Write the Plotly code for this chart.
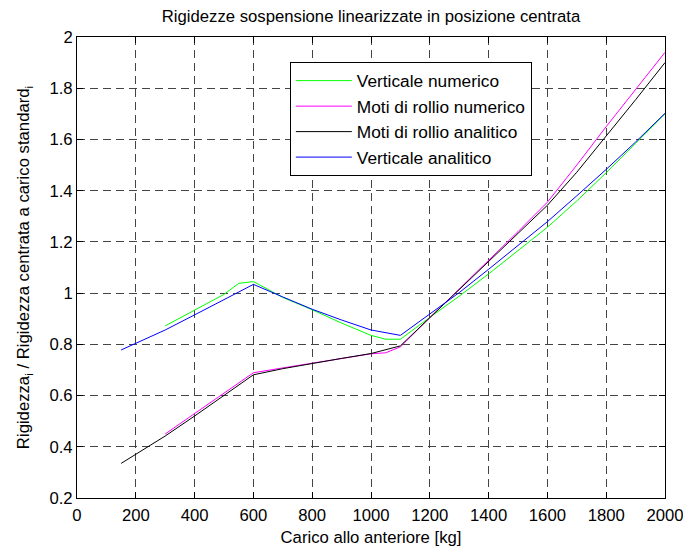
import plotly.graph_objects as go

# Carico allo anteriore [kg] and normalised stiffness values
x_vert_num = [300, 400, 500, 550, 600, 700, 800, 900, 1000, 1050, 1100, 1200, 1300, 1400, 1500, 1600, 1700, 1800, 1900, 2000]
y_vert_num = [0.872, 0.934, 0.995, 1.038, 1.045, 0.983, 0.935, 0.883, 0.835, 0.820, 0.820, 0.905, 0.988, 1.075, 1.165, 1.257, 1.360, 1.470, 1.585, 1.700]

x_roll_num = [300, 400, 500, 600, 700, 800, 900, 1000, 1050, 1100, 1200, 1300, 1400, 1500, 1600, 1700, 1800, 1900, 2000]
y_roll_num = [0.450, 0.530, 0.610, 0.689, 0.708, 0.726, 0.745, 0.763, 0.767, 0.790, 0.904, 1.015, 1.128, 1.240, 1.355, 1.500, 1.650, 1.795, 1.940]

x_roll_an = [150, 300, 400, 500, 600, 700, 800, 900, 1000, 1100, 1200, 1300, 1400, 1500, 1600, 1700, 1800, 1900, 2000]
y_roll_an = [0.335, 0.442, 0.520, 0.600, 0.681, 0.705, 0.726, 0.745, 0.764, 0.794, 0.904, 1.013, 1.125, 1.232, 1.343, 1.472, 1.613, 1.755, 1.900]

x_vert_an = [150, 300, 400, 500, 600, 700, 800, 900, 1000, 1100, 1200, 1300, 1400, 1500, 1600, 1700, 1800, 1900, 2000]
y_vert_an = [0.778, 0.856, 0.915, 0.975, 1.034, 0.985, 0.937, 0.895, 0.856, 0.835, 0.918, 1.002, 1.093, 1.185, 1.279, 1.380, 1.483, 1.590, 1.702]

series_names = ["Verticale numerico", "Moti di rollio numerico", "Moti di rollio analitico", "Verticale analitico"]
series_colors = ["#00ff00", "#ff00ff", "#000000", "#0000ff"]

title_text = "Rigidezze sospensione linearizzate in posizione centrata"
x_title = "Carico allo anteriore [kg]"
y_title = "Rigidezza<sub>i</sub> / Rigidezza centrata a carico standard<sub>i</sub>"

FONT = "Liberation Sans, Arial, Helvetica, sans-serif"
FS = 16.7

fig = go.Figure()
for xs, ys, name, col in zip(
    [x_vert_num, x_roll_num, x_roll_an, x_vert_an],
    [y_vert_num, y_roll_num, y_roll_an, y_vert_an],
    series_names, series_colors):
    fig.add_trace(go.Scatter(x=xs, y=ys, mode="lines", name=name,
                             line=dict(color=col, width=1)))

axis_common = dict(
    showline=True, linecolor="black", linewidth=1, mirror="ticks",
    ticks="inside", ticklen=6, tickcolor="black", tickwidth=1,
    showgrid=True, gridcolor="#444444", gridwidth=1, griddash="8px,5px",
    zeroline=False, tickfont=dict(family=FONT, size=FS, color="black"),
    ticklabeloverflow="allow", automargin=False,
)

fig.update_xaxes(range=[0, 2000], dtick=200, tick0=0, ticklabelstandoff=2,
                 title=dict(text=x_title, font=dict(family=FONT, size=FS, color="black"), standoff=10),
                 **axis_common)
fig.update_yaxes(range=[0.2, 2.0], dtick=0.2, tick0=0.2,
                 title=dict(text=y_title, font=dict(family=FONT, size=FS, color="black"), standoff=15),
                 **axis_common)

fig.update_layout(
    width=683, height=547, autosize=False,
    margin=dict(l=77, r=18, t=37, b=49),
    paper_bgcolor="white", plot_bgcolor="white",
    font=dict(family=FONT, size=FS, color="black"),
    title=dict(text=title_text, x=0.5, xref="paper", y=1 - 16.5 / 547, yref="container",
               xanchor="center", yanchor="middle", automargin=False,
               font=dict(family=FONT, size=FS, color="black")),
    legend=dict(x=0.362, y=0.946, xanchor="left", yanchor="top",
                bgcolor="white", bordercolor="black", borderwidth=1,
                itemwidth=56, font=dict(family=FONT, size=17.3, color="black")),
    showlegend=True,
)

fig.write_html("out.html")
